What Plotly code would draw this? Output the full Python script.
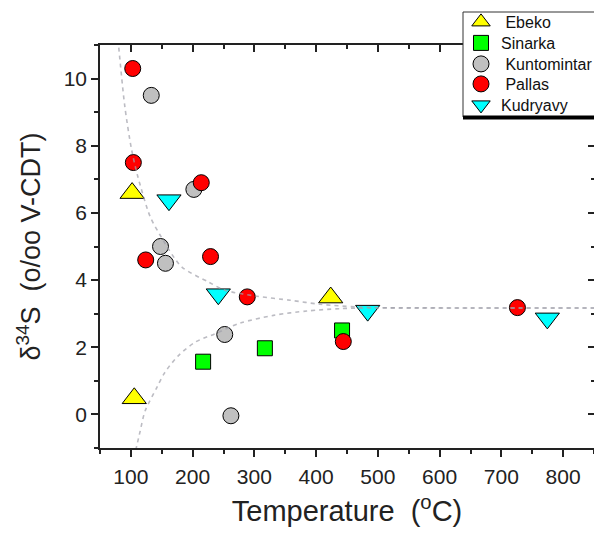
import plotly.graph_objects as go

# ---- data ----
ebeko_x = [102, 105.5, 423.6]
ebeko_y = [6.59, 0.48, 3.48]

sinarka_x = [217, 317, 442]
sinarka_y = [1.57, 1.97, 2.5]

kunto_x = [133, 202, 148, 156, 252, 262]
kunto_y = [9.5, 6.7, 5.0, 4.5, 2.38, -0.04]

pallas_x = [103, 104, 214, 124, 229, 288.5, 726, 444]
pallas_y = [10.3, 7.5, 6.9, 4.6, 4.7, 3.5, 3.18, 2.17]

kud_x = [161.7, 241.6, 483.5, 774.4]
kud_y = [6.38, 3.58, 3.09, 2.86]

upper_x = [78, 90, 101, 111, 131, 147, 182, 225, 252, 304, 358, 406, 466, 536, 650, 850]
upper_y = [11.4, 9.2, 7.9, 7.1, 5.9, 5.35, 4.4, 3.95, 3.7, 3.52, 3.4, 3.28, 3.2, 3.17, 3.17, 3.17]

lower_x = [105, 115, 123, 142, 155, 177, 204, 236, 277, 331, 385, 439, 500, 650, 850]
lower_y = [-1.3, -0.5, 0.1, 0.8, 1.25, 1.75, 2.15, 2.4, 2.72, 2.95, 3.08, 3.15, 3.17, 3.17, 3.17]

x_range = [50, 850]
y_range = [-1, 11]

FONT = "Liberation Sans, Arial, sans-serif"

# plot-area geometry in pixels (for paper-coordinate conversion of legend / box)
L, R, T, B = 100, 594, 45, 448
def px_x(p):
    return (p - L) / (R - L)
def px_y(p):
    return (B - p) / (B - T)

fig = go.Figure()

series = [
    (ebeko_x, ebeko_y, " Ebeko", "triangle-up", "#FFFF00", 21),
    (sinarka_x, sinarka_y, "Sinarka", "square", "#00FF00", 15),
    (kunto_x, kunto_y, " Kuntomintar", "circle", "#C0C0C0", 16),
    (pallas_x, pallas_y, " Pallas", "circle", "#FF0000", 16),
    (kud_x, kud_y, "Kudryavy", "triangle-down", "#00FFFF", 21),
]
legend_rows = [22, 43, 64, 84, 105]

legend_layouts = {}
for i, (x, y, name, symbol, color, size) in enumerate(series):
    lid = "legend" if i == 0 else f"legend{i + 1}"
    fig.add_trace(go.Scatter(
        x=x, y=y, mode="markers", name=name, legend=lid,
        marker=dict(symbol=symbol, color=color, size=size,
                    line=dict(color="black", width=1)),
    ))
    legend_layouts[lid] = dict(
        x=px_x(461), y=px_y(legend_rows[i]), xanchor="left", yanchor="middle",
        bgcolor="rgba(0,0,0,0)", borderwidth=0,
        font=dict(family=FONT, size=16, color="#111"),
        itemsizing="trace",
    )

for cx, cy in [(upper_x, upper_y), (lower_x, lower_y)]:
    fig.add_trace(go.Scatter(
        x=cx, y=cy, mode="lines", showlegend=False, hoverinfo="skip",
        line=dict(color="rgba(160,160,170,0.7)", width=1.6, dash="4px,4px", shape="spline", smoothing=0.8),
    ))

# empty trace for mirrored tick-only axes
fig.add_trace(go.Scatter(x=[], y=[], xaxis="x2", yaxis="y2", showlegend=False))

axis_common = dict(
    showgrid=False, zeroline=False, linecolor="#222", linewidth=1.5,
    tickcolor="#222", tickwidth=1.5, ticklen=7,
    tickfont=dict(family=FONT, size=21, color="#222"),
)

fig.update_layout(
    width=594, height=539,
    margin=dict(l=L, r=594 - R, t=T, b=539 - B, autoexpand=False),
    paper_bgcolor="white", plot_bgcolor="white",
    font=dict(family=FONT, color="#222"),
    xaxis=dict(
        range=x_range, tickvals=[100, 200, 300, 400, 500, 600, 700, 800],
        ticks="outside", showline=True,
        minor=dict(tickvals=[50, 150, 250, 350, 450, 550, 650, 750, 850], ticklen=4, ticks="outside", tickcolor="#222", tickwidth=1.5),
        title=dict(text="Temperature  (<sup>o</sup>C)", font=dict(family=FONT, size=29, color="#222"), standoff=14),
        ticklabelstandoff=2,
        **axis_common,
    ),
    yaxis=dict(
        range=y_range, tickvals=[0, 2, 4, 6, 8, 10],
        ticks="outside", showline=True,
        minor=dict(tickvals=[-1, 1, 3, 5, 7, 9, 11], ticklen=4, ticks="outside", tickcolor="#222", tickwidth=1.5),
        title=dict(text="δ<sup>34</sup>S  (o/oo V-CDT)", font=dict(family=FONT, size=27, color="#222"), standoff=15),
        **axis_common,
    ),
    xaxis2=dict(
        overlaying="x", side="top", range=x_range,
        tickvals=[100, 200, 300, 400, 500, 600, 700, 800], ticks="inside", showline=True,
        showticklabels=False, showgrid=False, zeroline=False,
        linecolor="#222", linewidth=1.5, tickcolor="#222", tickwidth=1.5, ticklen=7,
        minor=dict(tickvals=[50, 150, 250, 350, 450, 550, 650, 750, 850], ticklen=4, ticks="inside", tickcolor="#222", tickwidth=1.5),
    ),
    yaxis2=dict(
        overlaying="y", side="right", range=y_range,
        tickvals=[0, 2, 4, 6, 8, 10], ticks="inside", showline=False,
        showticklabels=False, showgrid=False, zeroline=False,
        tickcolor="#222", tickwidth=1.5, ticklen=6,
        minor=dict(tickvals=[-1, 1, 3, 5, 7, 9, 11], ticklen=3, ticks="inside", tickcolor="#222", tickwidth=1.5),
    ),
    showlegend=True,
    **legend_layouts,
)

# legend frame (white box with thin border) and the thick rule beneath it
fig.add_shape(type="rect", xref="paper", yref="paper",
              x0=px_x(463), x1=px_x(620), y0=px_y(117), y1=px_y(12),
              fillcolor="white", line=dict(color="#333", width=1), layer="above")
fig.add_shape(type="line", xref="paper", yref="paper",
              x0=px_x(463), x1=px_x(620), y0=px_y(117.5), y1=px_y(117.5),
              line=dict(color="black", width=4), layer="above")

fig.write_html("out.html")
